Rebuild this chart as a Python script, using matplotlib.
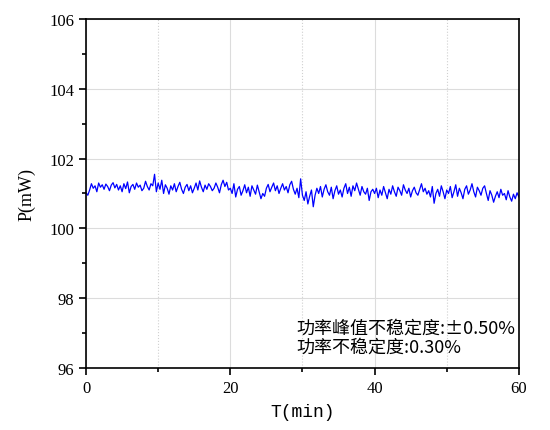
import numpy as np
import matplotlib.pyplot as plt
from matplotlib.ticker import MultipleLocator

# Valeurs (pas de 0.25 min)
p_0_10 = [101.02, 100.95, 101.10, 101.28, 101.15, 101.22, 101.05, 101.30, 101.18, 101.25,
          101.12, 101.27, 101.20, 101.08, 101.24, 101.31, 101.16, 101.26, 101.10, 101.22,
          101.05, 101.28, 101.14, 101.33, 101.02, 101.20, 101.26, 101.12, 101.30, 101.18,
          101.24, 101.08, 101.15, 101.35, 101.20, 101.10, 101.28, 101.22, 101.55, 101.05]
p_10_20 = [101.30, 101.12, 101.38, 101.00, 101.25, 101.15, 100.98, 101.22, 101.10, 101.28,
           101.05, 101.20, 101.32, 101.12, 101.00, 101.18, 101.26, 101.08, 101.22, 101.02,
           101.15, 101.30, 101.10, 101.36, 101.18, 101.05, 101.24, 101.12, 101.28, 101.20,
           101.08, 101.15, 101.30, 101.18, 101.02, 101.25, 101.38, 101.20, 101.32, 101.10]
p_20_30 = [101.15, 101.00, 101.28, 100.90, 101.12, 101.20, 100.95, 101.08, 101.25, 101.02,
           101.18, 100.92, 101.22, 101.10, 100.98, 101.24, 101.05, 100.85, 101.00, 100.92,
           101.15, 101.26, 101.05, 101.18, 101.30, 101.08, 101.22, 101.00, 101.15, 101.28,
           101.10, 101.20, 101.02, 101.25, 101.35, 101.12, 100.98, 101.15, 100.88, 101.42]
p_30_40 = [100.95, 100.80, 101.05, 100.70, 100.92, 101.10, 100.62, 100.95, 101.15, 101.00,
           101.20, 100.90, 101.12, 101.25, 101.05, 100.95, 101.18, 100.85, 101.08, 101.22,
           100.98, 101.10, 100.90, 101.15, 101.28, 101.00, 101.18, 100.92, 101.22, 101.08,
           101.30, 101.12, 100.95, 101.20, 101.05, 100.98, 101.15, 100.80, 101.05, 101.12]
p_40_50 = [101.00, 101.15, 100.88, 101.10, 100.95, 101.20, 101.02, 100.85, 101.12, 100.98,
           101.22, 101.05, 100.92, 101.18, 101.08, 100.95, 101.25, 101.10, 101.00, 101.15,
           100.90, 101.08, 101.18, 101.02, 100.95, 101.12, 101.28, 101.05, 101.15, 100.98,
           101.08, 100.90, 101.20, 100.72, 101.00, 101.12, 100.92, 101.22, 101.05, 100.85]
p_50_60 = [101.10, 101.00, 101.20, 100.88, 101.05, 101.25, 100.92, 101.15, 101.02, 100.85,
           101.12, 101.22, 100.98, 101.10, 101.28, 101.05, 100.90, 101.18, 101.08, 100.95,
           101.15, 101.22, 101.00, 100.80, 101.08, 100.95, 100.75, 100.92, 101.05, 100.88,
           101.12, 100.95, 101.00, 100.82, 101.08, 100.90, 100.78, 100.98, 100.85, 101.02,
           100.90]

p = np.array(p_0_10 + p_10_20 + p_20_30 + p_30_40 + p_40_50 + p_50_60)
t = np.linspace(0, 60, len(p))

x_ticks = [0, 20, 40, 60]
y_ticks = [96, 98, 100, 102, 104, 106]
note = '功率峰值不稳定度:±0.50%\n功率不稳定度:0.30%'

fig = plt.figure(figsize=(5.5, 4.31), dpi=100)
ax = fig.add_axes([0.1564, 0.1439, 0.787, 0.8097])

ax.plot(t, p, color='#0000ff', lw=0.9)

ax.set_xlim(0, 60)
ax.set_ylim(96, 106)
ax.set_xticks(x_ticks)
ax.set_yticks(y_ticks)
ax.xaxis.set_minor_locator(MultipleLocator(10))
ax.yaxis.set_minor_locator(MultipleLocator(1))

ax.grid(which='major', color='#dcdcdc', lw=0.8, ls='-')
ax.grid(which='minor', axis='x', color='#d0d0d0', lw=0.8, ls=':')

ax.tick_params(which='major', direction='out', length=5, width=1.2, labelsize=12)
ax.tick_params(which='minor', direction='out', length=3, width=1.2)
for lab in ax.get_xticklabels() + ax.get_yticklabels():
    lab.set_fontfamily('Liberation Serif')
for s in ax.spines.values():
    s.set_linewidth(1.2)

ax.set_xlabel('T(min)', family='Liberation Mono', fontsize=13, labelpad=5)
ax.set_ylabel('P(mW)', family='Liberation Serif', fontsize=13, labelpad=10)

ax.text(0.487, 0.035, note, transform=ax.transAxes, ha='left', va='bottom',
        fontsize=13, linespacing=1.1, family=['Noto Sans CJK SC', 'DejaVu Sans'])

plt.savefig('out.png')
